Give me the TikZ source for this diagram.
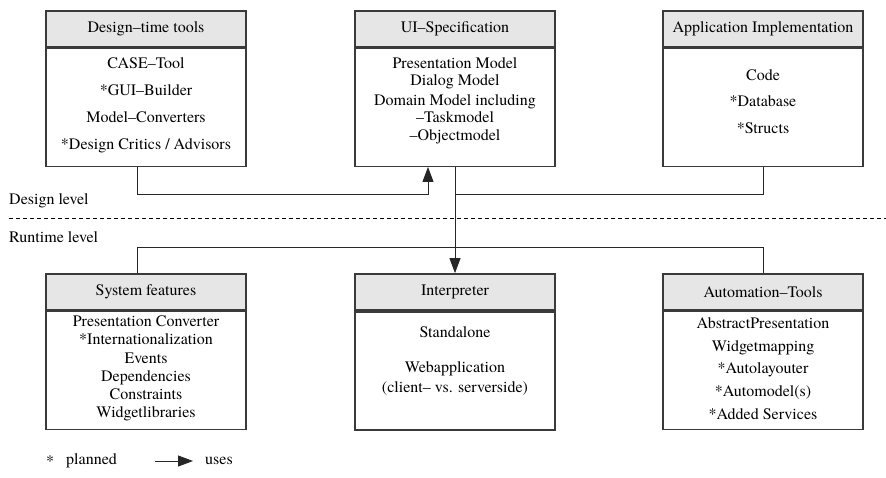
\documentclass[tikz,border=0pt]{standalone}
\usepackage{fontspec}
\setmainfont{texgyretermes}[Extension=.otf, UprightFont=*-regular, BoldFont=*-bold, ItalicFont=*-italic, BoldItalicFont=*-bolditalic]
\usetikzlibrary{positioning,arrows.meta}

\definecolor{boxline}{HTML}{3A3A3A}
\definecolor{headfill}{HTML}{E6E6E6}

\begin{document}
\begin{tikzpicture}[x=1pt,y=-1pt,
	font=\fontsize{16}{18.3}\selectfont,
	head/.style={draw=boxline, line width=1.3pt, fill=headfill, minimum width=200pt, minimum height=36pt, inner sep=0pt},
	body/.style={draw=boxline, line width=1.3pt, fill=white, minimum width=200pt, minimum height=118pt, below=0pt of #1},
	items/.style={align=center, inner sep=0pt},
	uses/.style={-{Triangle[length=15pt,width=11pt]}},
	link/.style={line width=0.9pt, draw=black!85}]
	\useasboundingbox (0,0) rectangle (886,477);

	% design level
	\node[head] (tools) at (146,29) {Design--time tools};
	\node[body=tools] (toolsbody) {};
	\node[items] (toolsitems) at (146,105.5) {CASE--Tool\\[8.7pt] *GUI--Builder\\[8.7pt] Model--Converters\\[8.7pt] *Design Critics / Advisors};

	\node[head] (spec) at (455,29) {UI--Specification};
	\node[body=spec] (specbody) {};
	\node[items, font=\fontsize{16}{17.2}\selectfont] (specitems) at (455,100.5) {Presentation Model\\ Dialog Model\\[3pt] Domain Model including\\ --Taskmodel\\ --Objectmodel};

	\node[head] (impl) at (763,29) {Application Implementation};
	\node[body=impl] (implbody) {};
	\node[items] (implitems) at (763,101.5) {Code\\[8.2pt] *Database\\[8.2pt] *Structs};

	% runtime level
	\node[head] (features) at (146,292) {System features};
	\node[body=features] (featuresbody) {};
	\node[items] (featuresitems) at (146,368.5) {Presentation Converter\\ *Internationalization\\ Events\\ Dependencies\\ Constraints\\ Widgetlibraries};

	\node[head, line width=1.7pt] (interp) at (455,292) {Interpreter};
	\node[body=interp, line width=1.7pt] (interpbody) {};
	\node[items] (interpitems) at (455,361) {Standalone\\[16.5pt] Webapplication\\[1.5pt] (client-- vs. serverside)};

	\node[head] (auto) at (763,292) {Automation--Tools};
	\node[body=auto] (autobody) {};
	\node[items] (autoitems) at (763,368.5) {AbstractPresentation\\[4.5pt] Widgetmapping\\[4.5pt] *Autolayouter\\[4.5pt] *Automodel(s)\\[4.5pt] *Added Services};

	% level separator
	\draw[dash pattern=on 4pt off 3pt, line width=0.9pt] (9,218) -- (886,218);
	\node[anchor=west, inner sep=0pt] (design) at (9,201) {Design level};
	\node[anchor=west, inner sep=0pt] (runtime) at (9,237) {Runtime level};

	% connectors
	\coordinate (toolsout) at ([xshift=-9pt]toolsbody.south);
	\coordinate (specin) at ([xshift=-27pt]specbody.south);
	\coordinate (featin) at ([xshift=-9pt]features.north);
	\draw[link, uses] (toolsout) -- ++(0,27) -| (specin);
	\draw[link] (implbody.south) -- ++(0,27) -| (specbody.south);
	\draw[link, uses] (specbody.south) -- (interp.north);
	\draw[link] (featin) -- ++(0,-26) -| (auto.north);

	% legend
	\node[anchor=west, inner sep=0pt] (star) at (46,461) {*};
	\node[anchor=west, inner sep=0pt] (planned) at (66,461) {planned};
	\coordinate (legfrom) at (155,461);
	\coordinate (legto) at (193,461);
	\draw[link, uses] (legfrom) -- (legto);
	\node[anchor=west, inner sep=0pt] (usestxt) at (205,461) {uses};
\end{tikzpicture}
\end{document}
